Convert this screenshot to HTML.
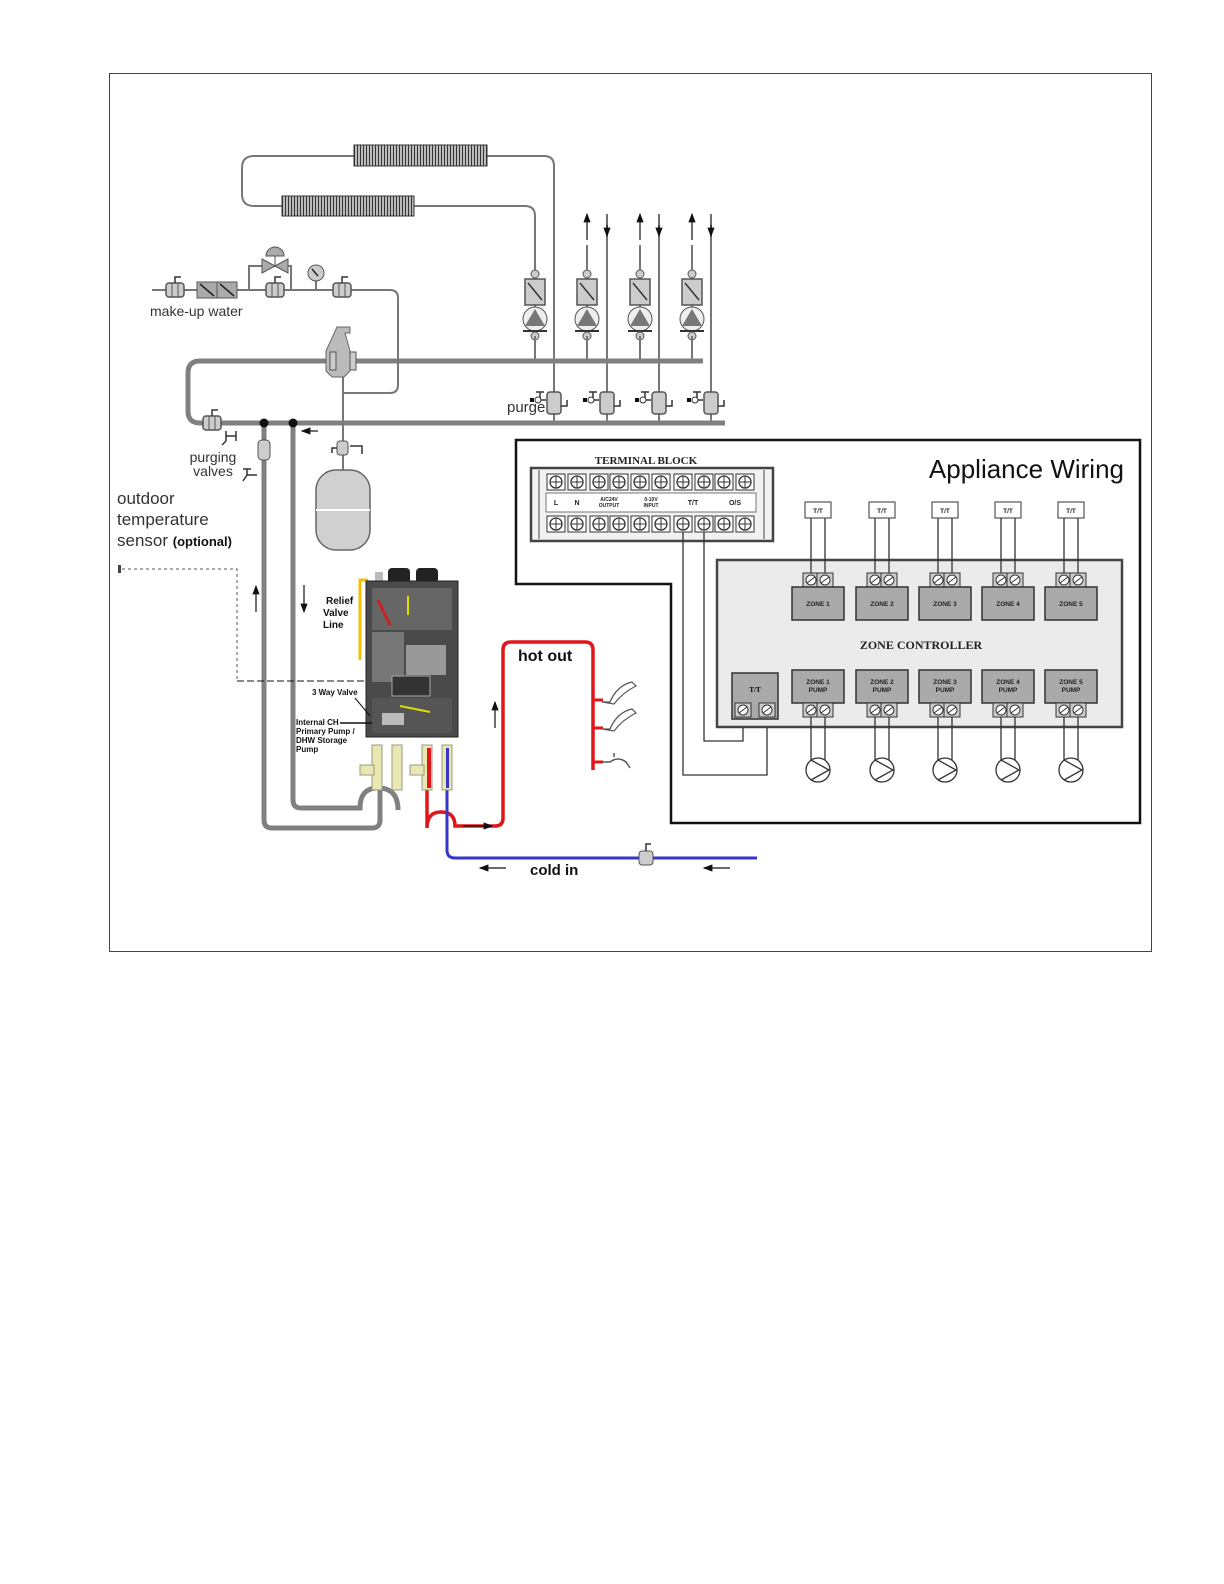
<!DOCTYPE html>
<html><head><meta charset="utf-8"><style>
html,body{margin:0;padding:0;background:#fff}
svg{display:block}
text{font-family:"Liberation Sans",Arial,sans-serif}
.s{font-family:"Liberation Serif",serif;font-weight:bold}
</style></head><body>
<svg width="1224" height="1584" viewBox="0 0 1224 1584" xmlns="http://www.w3.org/2000/svg">
<defs>
<pattern id="fin" width="3" height="10" patternUnits="userSpaceOnUse"><rect width="3" height="10" fill="#bbb"/><rect width="1" height="10" fill="#333"/></pattern>
<marker id="ah" markerWidth="8" markerHeight="8" refX="7" refY="4" orient="auto"><path d="M0,1 L8,4 L0,7z" fill="#111"/></marker>
<g id="pump">
<line x1="0" y1="-10" x2="0" y2="52" stroke="#777" stroke-width="2"/>
<circle cx="0" cy="-6" r="4" fill="#ccc" stroke="#555"/>
<rect x="-10" y="-1" width="20" height="26" fill="#ccc" stroke="#555" stroke-width="1.5"/>
<line x1="-7" y1="3" x2="7" y2="20" stroke="#333" stroke-width="1.5"/>
<circle cx="0" cy="39" r="12" fill="#eee" stroke="#555"/>
<path d="M0,29 L10,46 L-10,46z" fill="#777"/>
<line x1="-12" y1="51" x2="12" y2="51" stroke="#333" stroke-width="2"/>
<circle cx="0" cy="56" r="4" fill="#ccc" stroke="#555"/>
</g>
<g id="purge">
<rect x="-7" y="-10" width="14" height="22" rx="3" fill="#ccc" stroke="#555" stroke-width="1.5"/>
<path d="M7,4 h6 v-6" fill="none" stroke="#333" stroke-width="1.5"/>
<path d="M-8,-2 h-10 M-14,-2 v-8 m-4,0 h8" fill="none" stroke="#333" stroke-width="1.5"/>
<circle cx="-16" cy="-2" r="3" fill="#fff" stroke="#333"/>
<rect x="-24" y="-4" width="4" height="4" fill="#111"/>
</g>
<g id="valve">
<rect x="-9" y="-7" width="18" height="14" rx="3" fill="#ccc" stroke="#555" stroke-width="1.5"/>
<line x1="-3" y1="-7" x2="-3" y2="7" stroke="#555"/><line x1="3" y1="-7" x2="3" y2="7" stroke="#555"/>
<path d="M0,-7 v-6 h6" fill="none" stroke="#333" stroke-width="1.5"/>
</g>
<g id="scr"><rect x="-9" y="-8" width="18" height="16" fill="#fff" stroke="#333"/><circle r="6" fill="#fff" stroke="#333" stroke-width="1.3"/><line x1="-6" y1="0" x2="6" y2="0" stroke="#333"/><line x1="0" y1="-6" x2="0" y2="6" stroke="#333"/></g>
<g id="zs"><rect x="-8" y="-7" width="16" height="14" fill="#ccc" stroke="#333"/><circle r="5" fill="#fff" stroke="#333"/><line x1="-4" y1="3" x2="4" y2="-3" stroke="#333"/></g>
<g id="cp"><circle r="12" fill="#fff" stroke="#333" stroke-width="1.3"/><path d="M-7,-10 L11,0 L-7,10" fill="none" stroke="#333" stroke-width="1.3"/></g>
<g id="tap"><path d="M0,0 h8 c4,-10 12,-18 22,-20 l4,4 c-8,4 -16,10 -22,18z" fill="#fff" stroke="#555" stroke-width="1.2"/></g>
</defs>

<rect x="109.5" y="73.5" width="1042" height="878" fill="none" stroke="#444" stroke-width="1"/>

<!-- radiators loop -->
<path d="M354,156 H254 q-12,0 -12,12 V194 q0,12 12,12 H282" fill="none" stroke="#777" stroke-width="2"/>
<path d="M487,156 H544 q10,0 10,10 V423" fill="none" stroke="#777" stroke-width="2"/>
<path d="M414,206 H525 q10,0 10,10 V270" fill="none" stroke="#777" stroke-width="2"/>
<rect x="354" y="145" width="133" height="21" fill="url(#fin)" stroke="#333"/>
<rect x="282" y="196" width="132" height="20" fill="url(#fin)" stroke="#333"/>

<!-- pumps -->
<use href="#pump" x="535" y="280"/><use href="#pump" x="587" y="280"/><use href="#pump" x="640" y="280"/><use href="#pump" x="692" y="280"/>
<g stroke="#777" stroke-width="2"><line x1="535" y1="336" x2="535" y2="361"/><line x1="587" y1="336" x2="587" y2="361"/><line x1="640" y1="336" x2="640" y2="361"/><line x1="692" y1="336" x2="692" y2="361"/>
<line x1="587" y1="245" x2="587" y2="270"/><line x1="640" y1="245" x2="640" y2="270"/><line x1="692" y1="245" x2="692" y2="270"/>
<line x1="607" y1="225" x2="607" y2="423"/><line x1="659" y1="225" x2="659" y2="423"/><line x1="711" y1="225" x2="711" y2="423"/></g>
<g stroke="#111" stroke-width="1.2" marker-end="url(#ah)"><line x1="587" y1="240" x2="587" y2="214"/><line x1="640" y1="240" x2="640" y2="214"/><line x1="692" y1="240" x2="692" y2="214"/>
<line x1="607" y1="214" x2="607" y2="236"/><line x1="659" y1="214" x2="659" y2="236"/><line x1="711" y1="214" x2="711" y2="236"/></g>

<!-- main pipes -->
<path d="M703,361 H200 q-12,0 -12,12 V411 q0,12 12,12 H725" fill="none" stroke="#808080" stroke-width="5"/>
<use href="#purge" x="554" y="402"/><use href="#purge" x="607" y="402"/><use href="#purge" x="659" y="402"/><use href="#purge" x="711" y="402"/>
<text x="507" y="412" font-size="15" fill="#333">purge</text>

<!-- make-up water -->
<path d="M152,290 H390 q8,0 8,8 V385 q0,8 -8,8 H343" fill="none" stroke="#777" stroke-width="2"/>
<path d="M249,290 V266 h42 V290" fill="none" stroke="#777" stroke-width="2"/>
<use href="#valve" x="175" y="290"/>
<rect x="197" y="282" width="20" height="16" fill="#aaa" stroke="#555"/><rect x="217" y="282" width="20" height="16" fill="#aaa" stroke="#555"/>
<line x1="200" y1="284" x2="214" y2="296" stroke="#222" stroke-width="1.5"/><line x1="220" y1="284" x2="234" y2="296" stroke="#222" stroke-width="1.5"/>
<use href="#valve" x="275" y="290"/><use href="#valve" x="342" y="290"/>
<path d="M262,259 L288,273 V259 L262,273z" fill="#aaa" stroke="#555"/><line x1="275" y1="266" x2="275" y2="256" stroke="#555"/><path d="M266,256 a9,9 0 0 1 18,0z" fill="#aaa" stroke="#555"/>
<line x1="316" y1="280" x2="316" y2="290" stroke="#777" stroke-width="2"/><circle cx="316" cy="273" r="8" fill="#ccc" stroke="#555"/><line x1="312" y1="269" x2="318" y2="276" stroke="#222" stroke-width="1.5"/>
<text x="150" y="316" font-size="14" fill="#333">make-up water</text>

<!-- air separator & tank -->
<line x1="343" y1="370" x2="343" y2="472" stroke="#777" stroke-width="2"/>
<path d="M337,327 h13 v6 h-5 l5,18 v20 l-6,6 h-12 l-6,-6 v-20z" fill="#bbb" stroke="#666"/>
<rect x="330" y="352" width="6" height="18" fill="#ccc" stroke="#555"/><rect x="350" y="352" width="6" height="18" fill="#ccc" stroke="#555"/>
<rect x="337" y="441" width="11" height="14" rx="3" fill="#ccc" stroke="#555"/><path d="M350,446 h12 v8 M337,448 h-5 v5" fill="none" stroke="#333" stroke-width="1.5"/>
<rect x="316" y="470" width="54" height="80" rx="20" fill="#d0d0d0" stroke="#666" stroke-width="1.5"/><line x1="316" y1="510" x2="370" y2="510" stroke="#fff" stroke-width="2"/>

<!-- left verticals -->
<use href="#valve" x="212" y="423"/>
<path d="M226,431 v10 m0,-5 h10 m0,-5 v10 M226,441 l-4,4" fill="none" stroke="#333" stroke-width="1.5"/>
<path d="M264,423 V820 q0,8 8,8 H372 q8,0 8,-8 V790" fill="none" stroke="#808080" stroke-width="5"/>
<path d="M293,423 V800 q0,8 8,8 H360 q0,-20 18,-20 q20,0 20,22" fill="none" stroke="#808080" stroke-width="5"/>
<circle cx="264" cy="423" r="4.5" fill="#111"/><circle cx="293" cy="423" r="4.5" fill="#111"/>
<rect x="258" y="440" width="12" height="20" rx="4" fill="#ccc" stroke="#555"/>
<path d="M257,475 h-10 v-6 m-4,0 h8 M247,475 l-4,6" fill="none" stroke="#333" stroke-width="1.5"/>
<line x1="318" y1="431" x2="302" y2="431" stroke="#111" stroke-width="1.2" marker-end="url(#ah)"/>
<text x="213" y="462" font-size="14" fill="#333" text-anchor="middle">purging</text>
<text x="213" y="476" font-size="14" fill="#333" text-anchor="middle">valves</text>
<text x="117" y="504" font-size="17" fill="#333">outdoor</text>
<text x="117" y="525" font-size="17" fill="#333">temperature</text>
<text x="117" y="546" font-size="17" fill="#333">sensor <tspan font-size="13" font-weight="bold" fill="#111">(optional)</tspan></text>
<rect x="118" y="565" width="3" height="8" fill="#444"/>
<path d="M122,569 H237 V681" fill="none" stroke="#555" stroke-dasharray="3,3"/>
<path d="M237,681 H368" fill="none" stroke="#111" stroke-dasharray="7,3"/>
<line x1="256" y1="612" x2="256" y2="586" stroke="#111" stroke-width="1.2" marker-end="url(#ah)"/>
<line x1="304" y1="585" x2="304" y2="612" stroke="#111" stroke-width="1.2" marker-end="url(#ah)"/>

<!-- boiler -->
<path d="M368,580 H360 V660" fill="none" stroke="#f2c000" stroke-width="3"/>
<rect x="375" y="572" width="8" height="10" fill="#bbb"/>
<rect x="388" y="568" width="22" height="16" rx="4" fill="#222"/><rect x="416" y="568" width="22" height="16" rx="4" fill="#222"/>
<rect x="366" y="581" width="92" height="156" fill="#4a4a4a" stroke="#222"/>
<rect x="372" y="588" width="80" height="42" fill="#666"/>
<line x1="378" y1="600" x2="390" y2="625" stroke="#c22" stroke-width="3"/>
<line x1="408" y1="596" x2="408" y2="615" stroke="#dd0" stroke-width="2"/>
<rect x="372" y="632" width="32" height="50" fill="#777"/>
<rect x="406" y="645" width="40" height="30" fill="#999"/>
<rect x="392" y="676" width="38" height="20" fill="#333" stroke="#aaa"/>
<rect x="372" y="698" width="80" height="35" fill="#555"/>
<rect x="382" y="713" width="22" height="12" fill="#bbb"/>
<line x1="400" y1="706" x2="430" y2="712" stroke="#dd0" stroke-width="2"/>
<text x="326" y="604" font-size="10" font-weight="bold" fill="#111">Relief</text>
<text x="323" y="616" font-size="10" font-weight="bold" fill="#111">Valve</text>
<text x="323" y="628" font-size="10" font-weight="bold" fill="#111">Line</text>
<text x="312" y="695" font-size="8" font-weight="bold" fill="#111">3 Way Valve</text>
<line x1="355" y1="698" x2="370" y2="716" stroke="#111"/>
<text x="296" y="725" font-size="8" font-weight="bold" fill="#111">Internal CH</text>
<line x1="340" y1="723" x2="372" y2="723" stroke="#111" stroke-width="1.5"/>
<text x="296" y="734" font-size="8" font-weight="bold" fill="#111">Primary Pump /</text>
<text x="296" y="743" font-size="8" font-weight="bold" fill="#111">DHW Storage</text>
<text x="296" y="752" font-size="8" font-weight="bold" fill="#111">Pump</text>

<!-- red/blue -->
<path d="M427,745 V828 q0,-16 14,-16 q14,0 14,14 H495 q8,0 8,-8 V650 q0,-8 8,-8 H585 q8,0 8,8 V770" fill="none" stroke="#e0161b" stroke-width="3.5"/>
<path d="M447,745 V850 q0,8 8,8 H757" fill="none" stroke="#3636c8" stroke-width="3"/>
<g fill="#e8e8b0" stroke="#998"><rect x="372" y="745" width="10" height="45"/><rect x="392" y="745" width="10" height="45"/><rect x="422" y="745" width="10" height="45"/><rect x="442" y="745" width="10" height="45"/>
<rect x="360" y="765" width="14" height="10"/><rect x="410" y="765" width="14" height="10"/></g>
<rect x="427" y="748" width="4" height="40" fill="#e0161b"/><rect x="446" y="748" width="3" height="40" fill="#3636c8"/>
<g stroke="#e0161b" stroke-width="3"><line x1="593" y1="700" x2="603" y2="700"/><line x1="593" y1="728" x2="603" y2="728"/><line x1="593" y1="762" x2="603" y2="762"/></g>
<use href="#tap" x="602" y="702"/><use href="#tap" x="602" y="729"/>
<path d="M602,762 h8 q8,-6 16,0 l4,6 M614,757 v-4" fill="none" stroke="#555" stroke-width="1.5"/>
<rect x="639" y="851" width="14" height="14" rx="3" fill="#ccc" stroke="#555"/><path d="M646,851 v-7 h5" fill="none" stroke="#333" stroke-width="1.5"/>
<text x="518" y="661" font-size="16" font-weight="bold" fill="#111">hot out</text>
<text x="530" y="875" font-size="15" font-weight="bold" fill="#111">cold in</text>
<line x1="495" y1="728" x2="495" y2="702" stroke="#111" stroke-width="1.2" marker-end="url(#ah)"/>
<line x1="463" y1="826" x2="492" y2="826" stroke="#111" stroke-width="1.2" marker-end="url(#ah)"/>
<line x1="506" y1="868" x2="480" y2="868" stroke="#111" stroke-width="1.2" marker-end="url(#ah)"/>
<line x1="730" y1="868" x2="704" y2="868" stroke="#111" stroke-width="1.2" marker-end="url(#ah)"/>

<!-- appliance wiring -->
<path d="M516,440 H1140 V823 H671 V584 H516 Z" fill="none" stroke="#111" stroke-width="2.5"/>
<text x="1124" y="478" font-size="26" fill="#111" text-anchor="end">Appliance Wiring</text>
<text x="646" y="464" class="s" font-size="11" fill="#222" text-anchor="middle">TERMINAL BLOCK</text>
<rect x="531" y="468" width="242" height="73" fill="#f2f2f2" stroke="#444" stroke-width="2.5"/>
<line x1="539" y1="470" x2="539" y2="539" stroke="#444"/><line x1="764" y1="470" x2="764" y2="539" stroke="#444"/>
<rect x="546" y="493" width="210" height="19" fill="#fff" stroke="#777"/>
<g>
<use href="#scr" x="556" y="482"/><use href="#scr" x="577" y="482"/><use href="#scr" x="599" y="482"/><use href="#scr" x="619" y="482"/><use href="#scr" x="640" y="482"/><use href="#scr" x="661" y="482"/><use href="#scr" x="683" y="482"/><use href="#scr" x="704" y="482"/><use href="#scr" x="724" y="482"/><use href="#scr" x="745" y="482"/>
<use href="#scr" x="556" y="524"/><use href="#scr" x="577" y="524"/><use href="#scr" x="599" y="524"/><use href="#scr" x="619" y="524"/><use href="#scr" x="640" y="524"/><use href="#scr" x="661" y="524"/><use href="#scr" x="683" y="524"/><use href="#scr" x="704" y="524"/><use href="#scr" x="724" y="524"/><use href="#scr" x="745" y="524"/>
</g>
<g class="s" font-size="7" fill="#222" text-anchor="middle">
<text x="556" y="505">L</text><text x="577" y="505">N</text><text x="609" y="501" font-size="5">A/C24V</text><text x="609" y="507" font-size="5">OUTPUT</text><text x="651" y="501" font-size="5">0-10V</text><text x="651" y="507" font-size="5">INPUT</text><text x="693" y="505">T/T</text><text x="735" y="505">O/S</text></g>
<path d="M704,532 V741 H743 V719" fill="none" stroke="#333" stroke-width="1.3"/>
<path d="M683,532 V775 H767 V719" fill="none" stroke="#333" stroke-width="1.3"/>

<rect x="717" y="560" width="405" height="167" fill="#ebebeb" stroke="#444" stroke-width="2.5"/>
<text x="921" y="649" class="s" font-size="12" fill="#222" text-anchor="middle">ZONE CONTROLLER</text>
<rect x="732" y="673" width="46" height="46" fill="#aaa" stroke="#333" stroke-width="1.5"/>
<text x="755" y="692" class="s" font-size="7" text-anchor="middle">T/T</text>
<use href="#zs" x="743" y="710"/><use href="#zs" x="767" y="710"/>

<g id="z">
</g>
<g class="s" font-size="6.5" fill="#222" text-anchor="middle">
<!-- zone 1 -->
<g transform="translate(818,0)">
<line x1="-7" y1="518" x2="-7" y2="580" stroke="#333" stroke-width="1.3"/><line x1="7" y1="518" x2="7" y2="580" stroke="#333" stroke-width="1.3"/>
<rect x="-13" y="502" width="26" height="16" fill="#fff" stroke="#333"/><text y="513">T/T</text>
<use href="#zs" x="-7" y="580"/><use href="#zs" x="7" y="580"/>
<rect x="-26" y="587" width="52" height="33" fill="#aaa" stroke="#333" stroke-width="1.5"/><text y="606">ZONE 1</text>
<rect x="-26" y="670" width="52" height="33" fill="#aaa" stroke="#333" stroke-width="1.5"/><text y="684">ZONE 1</text><text y="692">PUMP</text>
<use href="#zs" x="-7" y="710"/><use href="#zs" x="7" y="710"/>
<line x1="-7" y1="717" x2="-7" y2="760" stroke="#333" stroke-width="1.3"/><line x1="7" y1="717" x2="7" y2="760" stroke="#333" stroke-width="1.3"/>
<use href="#cp" x="0" y="770"/></g>
<g transform="translate(882,0)">
<line x1="-7" y1="518" x2="-7" y2="580" stroke="#333" stroke-width="1.3"/><line x1="7" y1="518" x2="7" y2="580" stroke="#333" stroke-width="1.3"/>
<rect x="-13" y="502" width="26" height="16" fill="#fff" stroke="#333"/><text y="513">T/T</text>
<use href="#zs" x="-7" y="580"/><use href="#zs" x="7" y="580"/>
<rect x="-26" y="587" width="52" height="33" fill="#aaa" stroke="#333" stroke-width="1.5"/><text y="606">ZONE 2</text>
<rect x="-26" y="670" width="52" height="33" fill="#aaa" stroke="#333" stroke-width="1.5"/><text y="684">ZONE 2</text><text y="692">PUMP</text>
<use href="#zs" x="-7" y="710"/><use href="#zs" x="7" y="710"/>
<line x1="-7" y1="717" x2="-7" y2="760" stroke="#333" stroke-width="1.3"/><line x1="7" y1="717" x2="7" y2="760" stroke="#333" stroke-width="1.3"/>
<use href="#cp" x="0" y="770"/></g>
<g transform="translate(945,0)">
<line x1="-7" y1="518" x2="-7" y2="580" stroke="#333" stroke-width="1.3"/><line x1="7" y1="518" x2="7" y2="580" stroke="#333" stroke-width="1.3"/>
<rect x="-13" y="502" width="26" height="16" fill="#fff" stroke="#333"/><text y="513">T/T</text>
<use href="#zs" x="-7" y="580"/><use href="#zs" x="7" y="580"/>
<rect x="-26" y="587" width="52" height="33" fill="#aaa" stroke="#333" stroke-width="1.5"/><text y="606">ZONE 3</text>
<rect x="-26" y="670" width="52" height="33" fill="#aaa" stroke="#333" stroke-width="1.5"/><text y="684">ZONE 3</text><text y="692">PUMP</text>
<use href="#zs" x="-7" y="710"/><use href="#zs" x="7" y="710"/>
<line x1="-7" y1="717" x2="-7" y2="760" stroke="#333" stroke-width="1.3"/><line x1="7" y1="717" x2="7" y2="760" stroke="#333" stroke-width="1.3"/>
<use href="#cp" x="0" y="770"/></g>
<g transform="translate(1008,0)">
<line x1="-7" y1="518" x2="-7" y2="580" stroke="#333" stroke-width="1.3"/><line x1="7" y1="518" x2="7" y2="580" stroke="#333" stroke-width="1.3"/>
<rect x="-13" y="502" width="26" height="16" fill="#fff" stroke="#333"/><text y="513">T/T</text>
<use href="#zs" x="-7" y="580"/><use href="#zs" x="7" y="580"/>
<rect x="-26" y="587" width="52" height="33" fill="#aaa" stroke="#333" stroke-width="1.5"/><text y="606">ZONE 4</text>
<rect x="-26" y="670" width="52" height="33" fill="#aaa" stroke="#333" stroke-width="1.5"/><text y="684">ZONE 4</text><text y="692">PUMP</text>
<use href="#zs" x="-7" y="710"/><use href="#zs" x="7" y="710"/>
<line x1="-7" y1="717" x2="-7" y2="760" stroke="#333" stroke-width="1.3"/><line x1="7" y1="717" x2="7" y2="760" stroke="#333" stroke-width="1.3"/>
<use href="#cp" x="0" y="770"/></g>
<g transform="translate(1071,0)">
<line x1="-7" y1="518" x2="-7" y2="580" stroke="#333" stroke-width="1.3"/><line x1="7" y1="518" x2="7" y2="580" stroke="#333" stroke-width="1.3"/>
<rect x="-13" y="502" width="26" height="16" fill="#fff" stroke="#333"/><text y="513">T/T</text>
<use href="#zs" x="-7" y="580"/><use href="#zs" x="7" y="580"/>
<rect x="-26" y="587" width="52" height="33" fill="#aaa" stroke="#333" stroke-width="1.5"/><text y="606">ZONE 5</text>
<rect x="-26" y="670" width="52" height="33" fill="#aaa" stroke="#333" stroke-width="1.5"/><text y="684">ZONE 5</text><text y="692">PUMP</text>
<use href="#zs" x="-7" y="710"/><use href="#zs" x="7" y="710"/>
<line x1="-7" y1="717" x2="-7" y2="760" stroke="#333" stroke-width="1.3"/><line x1="7" y1="717" x2="7" y2="760" stroke="#333" stroke-width="1.3"/>
<use href="#cp" x="0" y="770"/></g>
</g>
</svg>
</body></html>
